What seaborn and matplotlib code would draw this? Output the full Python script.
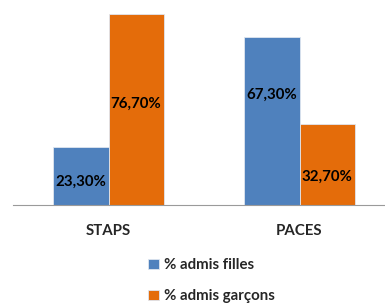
import seaborn as sns
import matplotlib.pyplot as plt
import pandas as pd

# data
filieres = ["STAPS", "PACES"]
series = ["% admis filles", "% admis garçons"]
filles = [23.3, 67.3]
garcons = [76.7, 32.7]
labels_filles = ["23,30%", "67,30%"]
labels_garcons = ["76,70%", "32,70%"]

colors = ["#4F81BD", "#E46C0A"]

df = pd.DataFrame({
    "filiere": filieres * 2,
    "serie": [series[0]] * 2 + [series[1]] * 2,
    "valeur": filles + garcons,
})

sns.set_style("white")
plt.rcParams["font.family"] = ["Lato", "DejaVu Sans"]

fig = plt.figure(figsize=(3.85, 3.03), dpi=100)
ax = fig.add_axes([13 / 385, 98 / 303, 382 / 385, 205 / 303])

sns.barplot(data=df, x="filiere", y="valeur", hue="serie", palette=colors,
            saturation=1, width=0.576, gap=0, edgecolor="#dfe6f0", linewidth=0.6, ax=ax)

ax.set_xlim(-0.5, 1.5)
ax.set_ylim(0, 82.3)

# data labels (placed roughly where Excel put them)
label_y_filles = [9.2, 44.2]
label_y_garcons = [40.6, 11.2]
off = 0.576 / 4
for i in range(len(filieres)):
    ax.text(i - off, label_y_filles[i], labels_filles[i], ha="center", va="center",
            fontsize=10.8, fontweight="bold", color="black")
    ax.text(i + off, label_y_garcons[i], labels_garcons[i], ha="center", va="center",
            fontsize=10.8, fontweight="bold", color="black")

# axes styling
for s in ["top", "right", "left"]:
    ax.spines[s].set_visible(False)
ax.spines["bottom"].set_color("#9a9a9a")
ax.set_yticks([])
ax.set_xticks([-0.5, 0.5, 1.5], minor=True)
ax.tick_params(axis="x", which="minor", length=5, color="#9a9a9a", direction="out")
ax.tick_params(axis="x", which="major", length=0, pad=14)
ax.set_xticklabels(filieres, fontsize=10.8, fontweight="bold")
ax.set_xlabel("")
ax.set_ylabel("")

handles, _ = ax.get_legend_handles_labels()
ax.legend(handles, series, loc="upper left", bbox_to_anchor=(136 / 385, 1 - 246 / 303),
          bbox_transform=fig.transFigure, frameon=False, ncol=1, borderpad=0.3,
          handlelength=0.7, handleheight=0.7, handletextpad=0.4, labelspacing=1.15,
          prop={"size": 10.8, "weight": "bold"})

fig.savefig("out.png", dpi=100)
